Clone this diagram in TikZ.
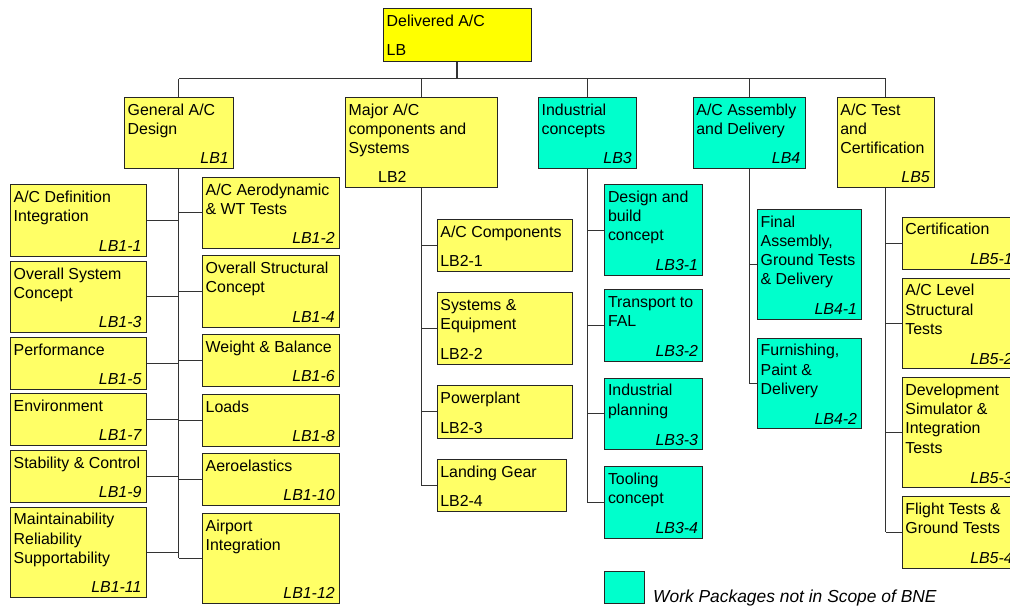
\documentclass[tikz,border=0pt]{standalone}
\usepackage{fontspec}
\setmainfont{Liberation Sans}
\definecolor{yel}{HTML}{FFFF66}
\definecolor{rootyel}{HTML}{FFFF00}
\definecolor{cyn}{HTML}{00FFCC}
\newcommand\boxfont{\fontsize{15.9}{19}\selectfont}
\tikzset{
  box/.style={draw=black!85, line width=0.9pt, rectangle, inner sep=0pt},
  lbl/.style={inner sep=0pt, font=\boxfont},
  code/.style={inner sep=0pt, font=\boxfont\itshape},
  tree/.style={draw=black!80, line width=1pt},
}
% name, x1, y1, x2, y2, fill, lines, italic code (right)
\newcommand\wb[8]{%
  \node[box, fill=#6, minimum width={#4-#2}, minimum height={#5-#3}, anchor=north west] (#1) at (#2,#3) {};
  \foreach \t [count=\i] in {#7} {\node[lbl, anchor=base west] at ([shift={(3.5,{18+(\i-1)*19.3})}]#1.north west) {\t};}
  \node[code, anchor=base east] at ([shift={(-5,-5)}]#1.south east) {#8};
}
% same, upright code on the left
\newcommand\wbl[8]{%
  \node[box, fill=#6, minimum width={#4-#2}, minimum height={#5-#3}, anchor=north west] (#1) at (#2,#3) {};
  \foreach \t [count=\i] in {#7} {\node[lbl, anchor=base west] at ([shift={(3.5,{18+(\i-1)*19.3})}]#1.north west) {\t};}
  \node[lbl, anchor=base west] at ([shift={(3.5,-5)}]#1.south west) {#8};
}
\begin{document}
\begin{tikzpicture}[x=1pt,y=-1pt]
\useasboundingbox (0,0) rectangle (1010,608);
\clip (0,0) rectangle (1010,608);

% root
\node[box, fill=rootyel, minimum width=147.7, minimum height=52.7, anchor=north west] (root) at (383,8) {};
\node[lbl, anchor=base west] at ([shift={(3.5,18.5)}]root.north west) {Delivered A/C};
\node[lbl, anchor=base west] at ([shift={(3.5,-6.5)}]root.south west) {LB};

% level 1
\wb{lb1}{124}{97}{233}{168}{yel}{General A/C, Design}{LB1}
\wb{lb2}{345}{97}{497}{187}{yel}{Major A/C, components and, Systems}{}
\node[lbl, anchor=base west] at ([shift={(33,-5.5)}]lb2.south west) {LB2};
\wb{lb3}{538}{97}{636}{168}{cyn}{Industrial, concepts}{LB3}
\wb{lb4}{692.7}{97}{804.5}{168}{cyn}{A/C Assembly, and Delivery}{LB4}
\wb{lb5}{836.7}{97}{934}{187}{yel}{A/C Test, and, Certification}{LB5}

% LB1 children
\wb{lb11}{10}{184}{145.7}{256}{yel}{A/C Definition, Integration}{LB1-1}
\wb{lb13}{10}{261}{145.7}{332}{yel}{Overall System, Concept}{LB1-3}
\wb{lb15}{10}{337}{145.7}{389}{yel}{Performance}{LB1-5}
\wb{lb17}{10}{393}{145.7}{445}{yel}{Environment}{LB1-7}
\wb{lb19}{10}{450}{145.7}{502}{yel}{Stability \& Control}{LB1-9}
\wb{lb111}{10}{506.7}{145.7}{597}{yel}{Maintainability, Reliability, Supportability}{LB1-11}
\wb{lb12}{202}{177}{339}{248}{yel}{A/C Aerodynamic, \& WT Tests}{LB1-2}
\wb{lb14}{202}{255}{339}{327}{yel}{Overall Structural, Concept}{LB1-4}
\wb{lb16}{202}{334}{339}{386}{yel}{Weight \& Balance}{LB1-6}
\wb{lb18}{202}{394}{339}{446}{yel}{Loads}{LB1-8}
\wb{lb110}{202}{453}{339}{505}{yel}{Aeroelastics}{LB1-10}
\wb{lb112}{202}{513}{339}{603}{yel}{Airport, Integration}{LB1-12}

% LB2 children
\wbl{lb21}{436.7}{219}{572}{271}{yel}{A/C Components}{LB2-1}
\wbl{lb22}{436.7}{292.3}{572}{364}{yel}{Systems \&, Equipment}{LB2-2}
\wbl{lb23}{436.7}{385}{572}{437.7}{yel}{Powerplant}{LB2-3}
\wbl{lb24}{436.7}{459}{566}{511}{yel}{Landing Gear}{LB2-4}

% LB3 children
\wb{lb31}{604.3}{184.3}{702.3}{275}{cyn}{Design and, build, concept}{LB3-1}
\wb{lb32}{604.3}{289.3}{702.3}{360.7}{cyn}{Transport to, FAL}{LB3-2}
\wb{lb33}{604.3}{377.7}{702.3}{449.3}{cyn}{Industrial, planning}{LB3-3}
\wb{lb34}{604.3}{466.3}{702.3}{538}{cyn}{Tooling, concept}{LB3-4}

% LB4 children
\wb{lb41}{757}{209}{861.3}{319}{cyn}{Final, {Assembly,}, Ground Tests, \& Delivery}{LB4-1}
\wb{lb42}{757}{337.7}{861.3}{428.3}{cyn}{{Furnishing,}, Paint \&, Delivery}{LB4-2}

% LB5 children
\wb{lb51}{901.7}{216.7}{1017}{269}{yel}{Certification}{LB5-1}
\wb{lb52}{901.7}{277.7}{1017}{368.3}{yel}{A/C Level, Structural, Tests}{LB5-2}
\wb{lb53}{901.7}{377.3}{1017}{487.3}{yel}{Development, Simulator \&, Integration, Tests}{LB5-3}
\wb{lb54}{901.7}{496.3}{1017}{567.7}{yel}{Flight Tests \&, Ground Tests}{LB5-4}

% connectors
\coordinate (bus) at (0,78.5);
\draw[tree, line width=1.8pt] (root.south) -- (root.south |- bus);
\draw[tree] (lb1.north |- bus) -- (lb5.north |- bus);
\foreach \n in {lb1,lb2,lb3,lb4,lb5} \draw[tree] (\n.north) -- (\n.north |- bus);

\draw[tree] (lb1.south) -- (lb1.south |- lb112.west);
\foreach \c in {lb11,lb13,lb15,lb17,lb19,lb111} \draw[tree] (\c.east -| lb1.south) -- (\c.east);
\foreach \c in {lb12,lb14,lb16,lb18,lb110,lb112} \draw[tree] (\c.west -| lb1.south) -- (\c.west);

\draw[tree] (lb2.south) -- (lb2.south |- lb24.west);
\foreach \c in {lb21,lb22,lb23,lb24} \draw[tree] (\c.west -| lb2.south) -- (\c.west);

\draw[tree] (lb3.south) -- (lb3.south |- lb34.west);
\foreach \c in {lb31,lb32,lb33,lb34} \draw[tree] (\c.west -| lb3.south) -- (\c.west);

\draw[tree] (lb4.south) -- (lb4.south |- lb42.west);
\foreach \c in {lb41,lb42} \draw[tree] (\c.west -| lb4.south) -- (\c.west);

\draw[tree] (lb5.south) -- (lb5.south |- lb54.west);
\foreach \c in {lb51,lb52,lb53,lb54} \draw[tree] (\c.west -| lb5.south) -- (\c.west);

% legend
\node[box, fill=cyn, minimum width=40, minimum height=31.7, anchor=north west] (legend) at (604.3,571) {};
\node[inner sep=0pt, anchor=base west, font=\fontsize{17.4}{20}\selectfont\itshape] (legendtext) at (653,602.7) {Work Packages not in Scope of BNE};
\end{tikzpicture}
\end{document}
